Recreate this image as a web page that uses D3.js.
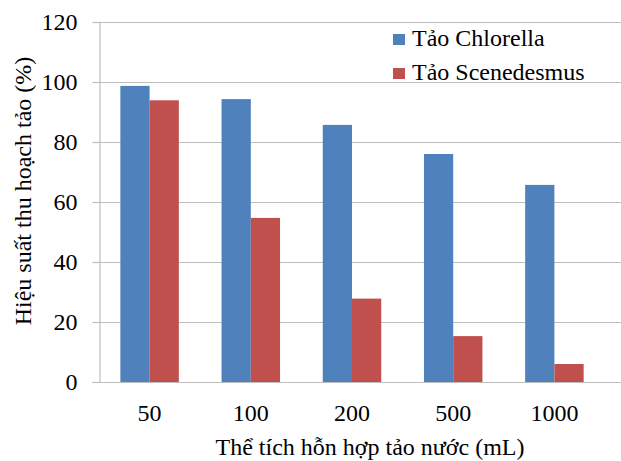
<!DOCTYPE html>
<html>
<head>
<meta charset="utf-8">
<script src="https://cdn.jsdelivr.net/npm/d3@7"></script>
<style>
  body { margin: 0; background: #fff; }
</style>
</head>
<body>
<div id="chart"></div>
<script>
// dane z wykresu
const categories = ["50", "100", "200", "500", "1000"];
const series = ["Tảo Chlorella", "Tảo Scenedesmus"];
const chlorella = [98.7, 94.3, 85.7, 76.0, 65.7];
const scenedesmus = [93.9, 54.7, 27.8, 15.3, 6.0];
const yTicks = [0, 20, 40, 60, 80, 100, 120];
const colors = ["#4F81BD", "#C0504D"];

const width = 621, height = 461;
const plotLeft = 99, plotRight = 605, gridRight = 621, plotTop = 22, plotBottom = 382;
const font = "'Liberation Serif', 'Times New Roman', 'DejaVu Serif', serif";
const fontSize = "24px";

const svg = d3.select("#chart").append("svg")
  .attr("width", width)
  .attr("height", height)
  .attr("font-family", font);

const x = d3.scaleBand()
  .domain(categories)
  .range([plotLeft, plotRight])
  .paddingInner(0.422)
  .paddingOuter(0.211);

const xInner = d3.scaleBand()
  .domain(series)
  .range([0, x.bandwidth()]);

const y = d3.scaleLinear()
  .domain([0, 120])
  .range([plotBottom, plotTop]);

// linie pomocnicze
svg.append("g")
  .selectAll("line")
  .data(yTicks.filter(d => d > 0))
  .enter()
  .append("line")
    .attr("x1", plotLeft)
    .attr("x2", gridRight)
    .attr("y1", d => Math.round(y(d)) + 0.5)
    .attr("y2", d => Math.round(y(d)) + 0.5)
    .attr("stroke", "#BEBEBE")
    .attr("stroke-width", 1.2);

// słupki
const rows = categories.map((c, i) => ({cat: c, values: [chlorella[i], scenedesmus[i]]}));
svg.append("g")
  .selectAll(".group")
  .data(rows)
  .enter()
  .append("g")
    .attr("transform", d => "translate(" + x(d.cat) + ",0)")
    .each(function(d) {
      d3.select(this)
        .selectAll("rect")
        .data(d.values.map((v, k) => ({name: series[k], value: v, k: k})))
        .enter()
        .append("rect")
          .attr("x", s => xInner(s.name))
          .attr("width", xInner.bandwidth())
          .attr("y", s => y(s.value))
          .attr("height", s => y(0) - y(s.value))
          .attr("fill", s => colors[s.k]);
    });

// oś lewa
const axisLeft = svg.append("g")
  .attr("transform", "translate(" + (plotLeft + 0.5) + ",0)")
  .call(d3.axisLeft(y).tickValues(yTicks).tickSize(7).tickPadding(15).tickSizeOuter(0));
axisLeft.attr("font-family", font);
axisLeft.select(".domain").attr("stroke", "#BEBEBE").attr("stroke-width", 1.2);
axisLeft.selectAll(".tick line").attr("stroke", "#BEBEBE").attr("stroke-width", 1.2);
axisLeft.selectAll(".tick text")
  .style("font-size", fontSize)
  .style("font-family", font)
  .attr("fill", "#000")
  .attr("dy", "0.33em");

// oś dolna
const axisBottom = svg.append("g")
  .attr("transform", "translate(0," + (plotBottom + 0.5) + ")")
  .call(d3.axisBottom(x).tickSize(0).tickPadding(21).tickSizeOuter(0));
axisBottom.attr("font-family", font);
axisBottom.select(".domain").remove();
axisBottom.append("line")
  .attr("x1", plotLeft - 7)
  .attr("x2", gridRight)
  .attr("stroke", "#BEBEBE")
  .attr("stroke-width", 1.2);
axisBottom.selectAll(".tick text")
  .style("font-size", fontSize)
  .style("font-family", font)
  .attr("fill", "#000");

// tytuły osi
svg.append("text")
  .attr("x", 370)
  .attr("y", 455)
  .attr("text-anchor", "middle")
  .style("font-size", fontSize)
  .style("font-family", font)
  .text("Thể tích hỗn hợp tảo nước (mL)");

svg.append("text")
  .attr("transform", "translate(31,191) rotate(-90)")
  .attr("text-anchor", "middle")
  .style("font-size", fontSize)
  .style("font-family", font)
  .text("Hiệu suất thu hoạch tảo (%)");

// legenda
const legend = svg.append("g")
  .selectAll("g")
  .data(series)
  .enter()
  .append("g")
    .attr("transform", (d, i) => "translate(393," + (34 + i * 34) + ")");
legend.append("rect")
  .attr("width", 12)
  .attr("height", 11)
  .attr("fill", (d, i) => colors[i]);
legend.append("text")
  .attr("x", 19)
  .attr("y", 12)
  .style("font-size", fontSize)
  .style("font-family", font)
  .text(d => d);
</script>
</body>
</html>
